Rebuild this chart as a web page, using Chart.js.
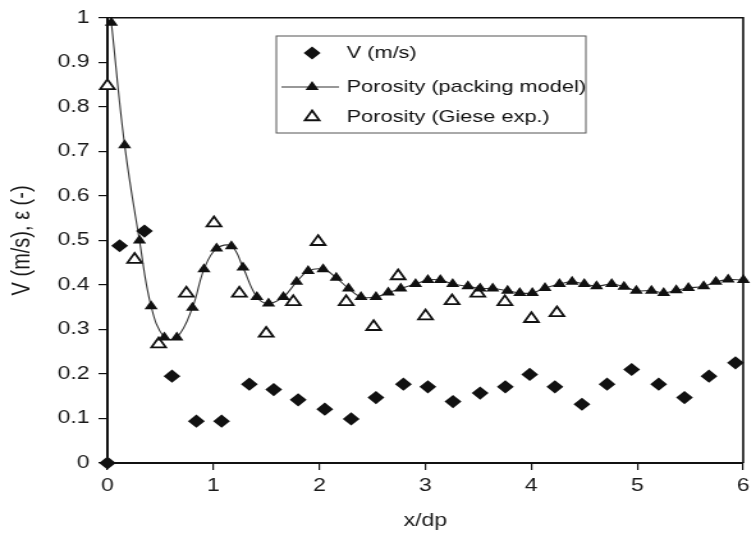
<!DOCTYPE html>
<html>
<head>
<meta charset="utf-8">
<script src="https://cdn.jsdelivr.net/npm/chart.js@4.4.1/dist/chart.umd.min.js"></script>
<style>
html,body{margin:0;padding:0;background:#fff;overflow:hidden;}
/* the reference figure is stretched sideways, so draw narrow and widen it */
#wrap{width:591px;height:533px;transform:scaleX(1.2792);transform-origin:0 0;}
</style>
</head>
<body>
<div id="wrap"><canvas id="chart"></canvas></div>
<script>
// ================= DATA =================
let vX = [0, 0.115, 0.349, 0.609, 0.839, 1.077, 1.339, 1.569, 1.8, 2.051, 2.3, 2.534, 2.793, 3.024, 3.261, 3.517, 3.755, 3.985, 4.223, 4.478, 4.715, 4.947, 5.202, 5.446, 5.677, 5.927]
let vY = [0, 0.488, 0.521, 0.195, 0.094, 0.094, 0.177, 0.165, 0.142, 0.121, 0.099, 0.147, 0.177, 0.171, 0.138, 0.157, 0.171, 0.199, 0.171, 0.132, 0.177, 0.210, 0.177, 0.147, 0.195, 0.225]

let packX = [0.037, 0.162, 0.302, 0.412, 0.537, 0.655, 0.802, 0.911, 1.030, 1.170, 1.279, 1.410, 1.520, 1.660, 1.785, 1.894, 2.035, 2.159, 2.275, 2.393, 2.534, 2.650, 2.768, 2.908, 3.024, 3.142, 3.258, 3.402, 3.517, 3.636, 3.776, 3.891, 4.010, 4.129, 4.266, 4.385, 4.500, 4.616, 4.759, 4.875, 4.991, 5.134, 5.249, 5.368, 5.483, 5.627, 5.742, 5.858, 6.002]
let packY = [0.989, 0.714, 0.500, 0.352, 0.282, 0.282, 0.349, 0.435, 0.482, 0.487, 0.439, 0.373, 0.358, 0.373, 0.407, 0.431, 0.435, 0.416, 0.392, 0.373, 0.373, 0.383, 0.392, 0.402, 0.411, 0.411, 0.402, 0.397, 0.392, 0.392, 0.387, 0.382, 0.382, 0.393, 0.402, 0.407, 0.402, 0.397, 0.402, 0.396, 0.387, 0.387, 0.382, 0.388, 0.393, 0.397, 0.407, 0.412, 0.411]

let gieseX = [0, 0.256, 0.483, 0.745, 1.005, 1.245, 1.498, 1.754, 1.988, 2.253, 2.512, 2.743, 3.002, 3.252, 3.495, 3.751, 4.001, 4.242]
let gieseY = [0.847, 0.457, 0.267, 0.381, 0.539, 0.381, 0.291, 0.362, 0.497, 0.362, 0.306, 0.420, 0.330, 0.364, 0.381, 0.362, 0.324, 0.337]

let seriesNames = ["V (m/s)", "Porosity (packing model)", "Porosity (Giese exp.)"]
let xTitle = "x/dp"
let yTitle = "V (m/s), ε (-)"

function pts(xs, ys){
return xs.map((x,i)=>({x:x, y:ys[i]}))
}

// ================= MARKER =================
function drawMarker(ctx, style, x, y, r, fill, stroke, bw){
ctx.beginPath()
if(style==="rectRot"){
ctx.moveTo(x, y-r); ctx.lineTo(x+r, y); ctx.lineTo(x, y+r); ctx.lineTo(x-r, y)
}else{
ctx.moveTo(x, y-r)
ctx.lineTo(x+r*Math.sin(2*Math.PI/3), y-r*Math.cos(2*Math.PI/3))
ctx.lineTo(x+r*Math.sin(4*Math.PI/3), y-r*Math.cos(4*Math.PI/3))
}
ctx.closePath()
if(fill){ ctx.fillStyle = fill; ctx.fill() }
if(bw){ ctx.lineWidth = bw; ctx.strokeStyle = stroke; ctx.stroke() }
}

// ================= PLUGINS =================
const framePlugin = {
id:"frame",
afterDatasetsDraw(chart){
let a = chart.chartArea, ctx = chart.ctx
ctx.save()
ctx.strokeStyle = "#111"
ctx.lineWidth = 1.6
ctx.beginPath()
ctx.moveTo(a.left, a.top); ctx.lineTo(a.right, a.top); ctx.lineTo(a.right, a.bottom)
ctx.stroke()
ctx.restore()
}
}

const legendPlugin = {
id:"boxLegend",
afterDraw(chart){
let ctx = chart.ctx
ctx.save()
let bx = 216, by = 36, bw = 242, bh = 97
ctx.fillStyle = "#fff"
ctx.fillRect(bx, by, bw, bh)
ctx.strokeStyle = "#555"
ctx.lineWidth = 1
ctx.strokeRect(bx, by, bw, bh)

let rows = [53, 87, 117]
let mx = 244, tx = 271
chart.data.datasets.forEach((ds,i)=>{
let y = rows[i]
if(ds.showLine){
ctx.strokeStyle = ds.borderColor
ctx.lineWidth = ds.borderWidth
ctx.beginPath(); ctx.moveTo(220, y); ctx.lineTo(265, y); ctx.stroke()
}
let filled = ds.pointBackgroundColor !== "#fff"
drawMarker(ctx, ds.pointStyle, mx, y, ds.pointRadius,
ds.pointBackgroundColor, ds.pointBorderColor, filled ? 0 : ds.pointBorderWidth)
ctx.fillStyle = "#111"
ctx.font = "17px 'Liberation Sans', Arial, sans-serif"
ctx.textBaseline = "middle"
ctx.textAlign = "left"
ctx.fillText(ds.label, tx, y)
})
ctx.restore()
}
}

// ================= CHART =================
Chart.defaults.font.family = "'Liberation Sans', Arial, sans-serif"
Chart.defaults.color = "#1a1a1a"

let ctx = document.getElementById("chart")

new Chart(ctx,{
type:"scatter",
data:{
datasets:[
{
label:seriesNames[0],
data:pts(vX, vY),
pointStyle:"rectRot",
pointRadius:6.6,
pointBackgroundColor:"#111",
pointBorderColor:"#111",
pointBorderWidth:0,
showLine:false,
clip:false
},
{
label:seriesNames[1],
data:pts(packX, packY),
pointStyle:"triangle",
pointRadius:6,
pointBackgroundColor:"#111",
pointBorderColor:"#111",
pointBorderWidth:0,
showLine:true,
borderColor:"#333",
borderWidth:1.1,
tension:0.4,
clip:false
},
{
label:seriesNames[2],
data:pts(gieseX, gieseY),
pointStyle:"triangle",
pointRadius:6.5,
pointBackgroundColor:"#fff",
pointBorderColor:"#111",
pointBorderWidth:1.8,
showLine:false,
clip:false
}
]
},
options:{
responsive:true,
maintainAspectRatio:false,
animation:false,
events:[],
layout:{padding:{top:17,right:6,left:0,bottom:0}},
plugins:{legend:{display:false},tooltip:{enabled:false}},
scales:{
x:{
type:"linear",
min:0,max:6,
afterFit:(s)=>{ s.height = 70 },
ticks:{stepSize:1,padding:5,font:{size:18},color:"#1a1a1a"},
grid:{drawOnChartArea:false,tickLength:7,color:"#111",lineWidth:1.2},
border:{color:"#111",width:2},
title:{display:true,text:xTitle,font:{size:18},color:"#1a1a1a",padding:{top:4,bottom:1}}
},
y:{
type:"linear",
min:0,max:1,
afterFit:(s)=>{ s.width = 84 },
ticks:{stepSize:0.1,padding:7,font:{size:18},color:"#1a1a1a",
callback:(v)=>String(Math.round(v*10)/10)},
grid:{drawOnChartArea:false,tickLength:7,color:"#111",lineWidth:1.2},
border:{color:"#111",width:2},
title:{display:true,text:yTitle,font:{size:20},color:"#1a1a1a",padding:{top:5,bottom:0}}
}
}
},
plugins:[framePlugin, legendPlugin]
})
</script>
</body>
</html>
